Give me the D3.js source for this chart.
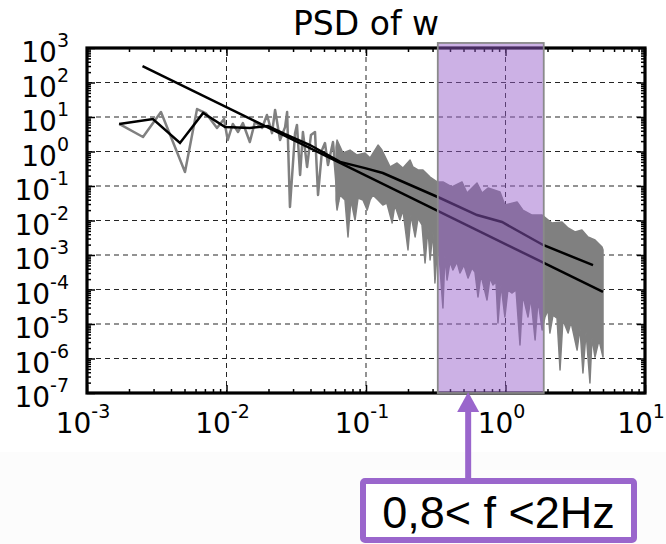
<!DOCTYPE html>
<html><head><meta charset="utf-8">
<script src="https://cdn.jsdelivr.net/npm/d3@7"></script>
<style>body{margin:0;background:#fff} svg{display:block}</style>
</head><body><svg id="c" width="666" height="544"></svg>
<script>
// ---------------- data ----------------
const title = "PSD of w";
const xTickExps = [-3, -2, -1, 0, 1];
const yTickExps = [3, 2, 1, 0, -1, -2, -3, -4, -5, -6, -7];

// sparse low-frequency part of the raw PSD (Hz, value)
const psdLowF = [0.0017,0.00252,0.00339,0.00504,0.00615,0.0071,0.00855,0.0096,0.0102,0.0111,0.0121,0.0131,0.0147,0.016,0.018,0.0195,0.0212,0.0223,0.0242,0.0263,0.0272,0.0285,0.031,0.032,0.0337,0.0353,0.0378,0.0403,0.0431,0.0453,0.0484,0.0508,0.0534,0.058,0.063];
const psdLowV = [6.3,2.63,14,0.255,17,13,4.8,8.7,2.15,6.3,3.67,6.7,1.88,7.2,4.8,11.4,3.4,16,2.15,5.1,14,0.0246,3.4,5.9,0.208,3.67,0.356,3.0,3.67,0.0548,1.1,1.76,0.406,1.88,0.0344];

// dense part of the raw PSD: upper envelope
const psdTopF = [0.061,0.062,0.0684,0.0768,0.0862,0.0984,0.107,0.122,0.13,0.149,0.167,0.184,0.207,0.217,0.236,0.256,0.288,0.323,0.356,0.413,0.488,0.53,0.625,0.679,0.75,0.913,0.99,1.21,1.33,1.55,1.83,2.15,2.54,2.81,3.15,3.53,3.9,4.38,4.92,5.0];
const psdTopV = [1.35,2.15,0.905,1.1,0.79,0.905,0.648,1.54,1.1,0.356,0.464,0.333,0.567,0.356,0.291,0.291,0.182,0.131,0.131,0.0935,0.131,0.0627,0.122,0.0627,0.0875,0.067,0.0281,0.0344,0.0201,0.0144,0.0144,0.00847,0.00906,0.00607,0.00464,0.00531,0.00333,0.00272,0.0017,0.0014];
// dense part of the raw PSD: lower envelope with its dips
const psdBotF = [0.061,0.062,0.0651,0.0707,0.0743,0.078,0.0834,0.0877,0.0951,0.102,0.107,0.112,0.122,0.132,0.141,0.154,0.161,0.175,0.184,0.2,0.21,0.225,0.236,0.252,0.265,0.278,0.288,0.302,0.312,0.328,0.356,0.368,0.381,0.4,0.42,0.449,0.472,0.504,0.539,0.575,0.604,0.635,0.667,0.737,0.774,0.813,0.855,0.883,0.929,0.99,1.04,1.11,1.19,1.27,1.33,1.45,1.52,1.63,1.71,1.83,1.92,2.02,2.08,2.19,2.34,2.46,2.58,2.81,2.95,3.26,3.42,3.59,3.78,4.03,4.17,4.38,4.68,5.0];
const psdBotV = [0.0393,0.0201,0.0548,0.0393,0.00333,0.0393,0.0103,0.0449,0.0393,0.0201,0.0393,0.0548,0.0393,0.0281,0.0321,0.00847,0.0281,0.0103,0.0201,0.0014,0.0144,0.00333,0.0118,0.00741,5.86e-4,0.00607,7.16e-4,0.00464,1.54e-4,0.00272,2.91e-5,1e-3,1.88e-4,6.27e-4,3.67e-4,6.27e-4,3.0e-4,5.13e-4,2.15e-4,4.2e-4,3.21e-4,6.07e-5,2.63e-4,4.97e-5,2.15e-4,1.35e-4,1.65e-4,1.07e-5,1.35e-4,1.6e-5,9.7e-5,7.9e-5,9.7e-5,2.46e-6,6.93e-5,1.6e-5,5.68e-5,3.44e-6,4.97e-5,6.7e-6,1.6e-5,2.55e-5,5.48e-6,1.82e-5,1.49e-5,4.64e-7,1.31e-5,5.48e-6,1.14e-5,1.76e-6,7.65e-6,3.8e-7,5.86e-6,1.95e-7,3.93e-6,1.1e-6,3.44e-6,1.1e-6];

// smoothed PSD (black)
const smoothF = [0.0017,0.00297,0.00464,0.0068,0.00976,0.0147,0.0198,0.0263,0.0397,0.0652,0.0984,0.132,0.339,0.625,0.944,1.86,4.24];
const smoothV = [6.3,8.7,1.76,13.1,5.13,4.8,5.5,3.2,1.54,0.50,0.33,0.238,0.0449,0.0144,0.00906,0.00195,5.1e-4];

// power-law fit (black straight line)
const fitF = [0.0025, 5.0];
const fitV = [300, 8.5e-5];

// highlighted frequency band and annotation
const bandF = [0.327, 1.88];
const bandV = [1e-7, 1400];
const arrowF = 0.54;
const annotation = "0,8< f <2Hz";

// ---------------- drawing ----------------
const svg = d3.select("#c");
const L = 87, R = 645, T = 48, B = 393;
const x = d3.scaleLog().domain([1e-3, 10]).range([L, R]);
const y = d3.scaleLog().domain([1e-7, 1e3]).range([B, T]);

svg.append("rect").attr("x",0).attr("y",452).attr("width",666).attr("height",92).attr("fill","#fcfcfc");

// grid
const gridX = xTickExps.slice(1, -1).map(e => Math.pow(10, e));
const gridY = yTickExps.slice(1, -1).map(e => Math.pow(10, e));
const grid = svg.append("g").attr("stroke", "#000").attr("stroke-width", 1).attr("stroke-dasharray", "5,4").attr("opacity", 0.85);
gridX.forEach(v => grid.append("line").attr("x1", x(v)).attr("x2", x(v)).attr("y1", T).attr("y2", B));
gridY.forEach(v => grid.append("line").attr("x1", L).attr("x2", R).attr("y1", y(v)).attr("y2", y(v)));

// raw PSD (gray)
const lineGen = d3.line().x(d => x(d[0])).y(d => y(d[1]));
const lowPts = psdLowF.map((f, i) => [f, psdLowV[i]]);
svg.append("path").attr("d", lineGen(lowPts)).attr("fill", "none").attr("stroke", "#808080").attr("stroke-width", 2.5).attr("stroke-linejoin","round");
const topPts = psdTopF.map((f, i) => [f, psdTopV[i]]);
const botPts = psdBotF.map((f, i) => [f, psdBotV[i]]).reverse();
svg.append("path").attr("d", lineGen(topPts.concat(botPts)) + "Z").attr("fill", "#808080").attr("stroke", "#808080").attr("stroke-width", 1.5).attr("stroke-linejoin","round");

// smoothed and fit
svg.append("path").attr("d", lineGen(smoothF.map((f, i) => [f, smoothV[i]]))).attr("fill", "none").attr("stroke", "#000").attr("stroke-width", 2.5);
svg.append("path").attr("d", lineGen(fitF.map((f, i) => [f, fitV[i]]))).attr("fill", "none").attr("stroke", "#000").attr("stroke-width", 2.5);

// ticks
const minorX = [], minorY = [];
for (let e = -3; e < 1; e++) for (let m = 2; m < 10; m++) minorX.push(m * Math.pow(10, e));
for (let e = -7; e < 3; e++) for (let m = 2; m < 10; m++) minorY.push(m * Math.pow(10, e));
const majX = xTickExps.map(e => Math.pow(10, e));
const majY = yTickExps.map(e => Math.pow(10, e));
function axis(gen, vals, size, tr) {
  const g = svg.append("g").attr("transform", tr).call(gen.tickValues(vals).tickSize(size).tickFormat(""));
  g.select(".domain").remove();
  g.selectAll("line").attr("stroke", "#000").attr("stroke-width", 1.5);
}
axis(d3.axisBottom(x), majX, -8, `translate(0,${B})`);
axis(d3.axisBottom(x), minorX, -4, `translate(0,${B})`);
axis(d3.axisTop(x), majX, -8, `translate(0,${T})`);
axis(d3.axisTop(x), minorX, -4, `translate(0,${T})`);
axis(d3.axisLeft(y), majY, -8, `translate(${L},0)`);
axis(d3.axisLeft(y), minorY, -4, `translate(${L},0)`);
axis(d3.axisRight(y), majY, -8, `translate(${R},0)`);
axis(d3.axisRight(y), minorY, -4, `translate(${R},0)`);

// spines
svg.append("rect").attr("x", L).attr("y", T).attr("width", R - L).attr("height", B - T).attr("fill", "none").attr("stroke", "#000").attr("stroke-width", 3.2);

// tick labels
const font = "DejaVu Sans, sans-serif";
xTickExps.forEach(e => {
  const t = svg.append("text").attr("x", x(Math.pow(10, e)) - 4).attr("y", 433).attr("text-anchor", "middle").attr("font-family", font).attr("font-size", 28).attr("fill", "#000");
  t.append("tspan").text("10");
  t.append("tspan").attr("dy", -15).attr("font-size", 19).text(String(e));
});
yTickExps.forEach(e => {
  const t = svg.append("text").attr("x", 69).attr("y", y(Math.pow(10, e)) + 14).attr("text-anchor", "end").attr("font-family", font).attr("font-size", 28).attr("fill", "#000");
  t.append("tspan").text("10");
  t.append("tspan").attr("dy", -15).attr("font-size", 19).text(String(e));
});

// title
svg.append("text").attr("x", (L + R) / 2).attr("y", 35).attr("text-anchor", "middle").attr("font-family", font).attr("font-size", 33).attr("fill", "#000").text(title);

// highlighted band
svg.append("rect").attr("x", x(bandF[0])).attr("y", y(bandV[1])).attr("width", x(bandF[1]) - x(bandF[0])).attr("height", y(bandV[0]) - y(bandV[1]))
  .attr("fill", "rgb(148,92,200)").attr("fill-opacity", 0.48).attr("stroke", "#8a8a8a").attr("stroke-width", 1.8);

// annotation arrow + box
const purple = "#9a66cc";
const ax = x(arrowF);
svg.append("line").attr("x1", ax).attr("x2", ax).attr("y1", 410).attr("y2", 480).attr("stroke", purple).attr("stroke-width", 6);
svg.append("path").attr("d", `M${ax},${y(bandV[0]) - 1}L${ax - 11},412L${ax + 11},412Z`).attr("fill", purple);
svg.append("rect").attr("x", 363).attr("y", 481).attr("width", 271).attr("height", 59).attr("rx", 2).attr("fill", "#fff").attr("stroke", purple).attr("stroke-width", 6);
svg.append("text").attr("x", 498.5).attr("y", 528).attr("text-anchor", "middle").attr("font-family", "Liberation Sans, Arial, sans-serif").attr("font-size", 45).attr("fill", "#000").text(annotation);
</script></body></html>
